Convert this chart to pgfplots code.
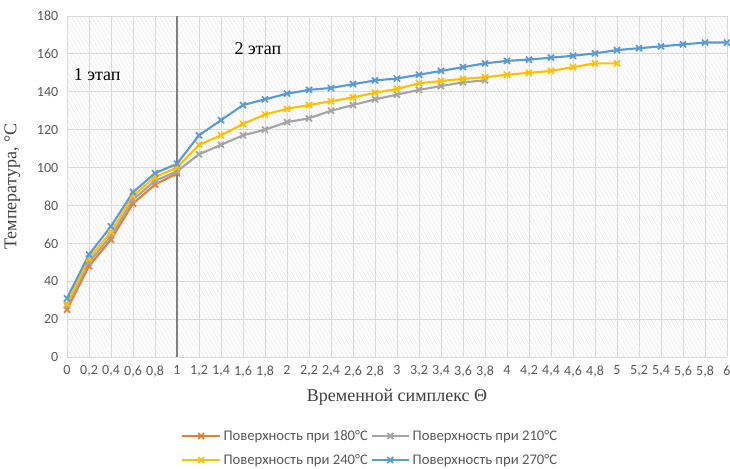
\documentclass[border=0pt]{standalone}
\usepackage{fontspec}
\setmainfont{Carlito}
\newfontfamily\serif{Liberation Serif}
\usepackage{pgfplots}
\pgfplotsset{compat=1.18}
\usetikzlibrary{patterns.meta}
\definecolor{cOr}{HTML}{ED7D31}
\definecolor{cGr}{HTML}{A5A5A5}
\definecolor{cYe}{HTML}{FFC000}
\definecolor{cBl}{HTML}{5B9BD5}
\definecolor{cTk}{HTML}{595959}
\definecolor{cGd}{HTML}{D9D9D9}
\begin{document}
\begin{tikzpicture}
\begin{axis}[
  scale only axis, width=495pt, height=255.75pt,
  xmin=0, xmax=6, ymin=0, ymax=180,
  xtick={0,0.2,0.4,0.6,0.8,1,1.2,1.4,1.6,1.8,2,2.2,2.4,2.6,2.8,3,3.2,3.4,3.6,3.8,4,4.2,4.4,4.6,4.8,5,5.2,5.4,5.6,5.8,6},
  xticklabels={0,{0,2},{0,4},{0,6},{0,8},1,{1,2},{1,4},{1,6},{1,8},2,{2,2},{2,4},{2,6},{2,8},3,{3,2},{3,4},{3,6},{3,8},4,{4,2},{4,4},{4,6},{4,8},5,{5,2},{5,4},{5,6},{5,8},6},
  ytick={0,20,...,180},
  /pgf/number format/assume math mode=true,
  tick label style={font=\fontsize{10.5}{12}\selectfont, text=cTk},
  major tick length=0pt,
  grid=major, grid style={cGd, line width=0.6pt},
  axis line style={draw=none},
  axis background/.style={pattern={Lines[angle=-60,distance=2.6pt,line width=0.5pt]}, pattern color=black!8},
  xlabel={\serif Временной симплекс Θ},
  ylabel={\serif Температура, °С},
  every axis x label/.style={at={(axis description cs:0.5,0)}, yshift=-30pt, anchor=center, font=\fontsize{13.5}{16}\selectfont, text=black!75},
  every axis y label/.style={at={(axis description cs:0,0.5)}, xshift=-41pt, rotate=90, anchor=center, font=\fontsize{13.5}{16}\selectfont, text=black!75},
  xticklabel style={yshift=-3pt},
  yticklabel style={xshift=-3pt},
  clip=false,
  legend columns=2,
  legend style={draw=none, fill=none, at={(0.46,-0.267)}, anchor=center,
    font=\fontsize{11}{13}\selectfont, text=cTk,
    row sep=5pt,
    /tikz/every even column/.append style={column sep=0pt},
    cells={anchor=west}},
  legend image code/.code={\draw[mark repeat=2,mark phase=2] plot coordinates {(0pt,0pt) (14pt,0pt) (28pt,0pt)};},
  every axis plot/.append style={line width=1.6pt, mark=x, mark size=3.2pt, mark options={line width=1.3pt}},
]
\draw[color=black!50, line width=1.6pt] (axis cs:1,0) -- (axis cs:1,180);
\addplot[cOr] coordinates {(0,25) (0.2,48) (0.4,62) (0.6,81) (0.8,91) (1,97)};
\addplot[cGr] coordinates {(0,27) (0.2,50) (0.4,64) (0.6,83) (0.8,93) (1,98) (1.2,107) (1.4,112) (1.6,117) (1.8,120) (2,124) (2.2,126) (2.4,130) (2.6,133) (2.8,136) (3,138.5) (3.2,141) (3.4,143) (3.6,145) (3.8,146)};
\addplot[cYe] coordinates {(0,28) (0.2,52) (0.4,66) (0.6,85) (0.8,95) (1,100) (1.2,112) (1.4,117) (1.6,123) (1.8,128) (2,131) (2.2,133) (2.4,135) (2.6,137) (2.8,139.5) (3,141.5) (3.2,144.5) (3.4,145.7) (3.6,146.8) (3.8,147.7) (4,149) (4.2,150) (4.4,151) (4.6,153) (4.8,155) (5,155)};
\addplot[cBl] coordinates {(0,31) (0.2,54) (0.4,69) (0.6,87) (0.8,97) (1,102) (1.2,117) (1.4,125) (1.6,133) (1.8,136) (2,139) (2.2,141) (2.4,142) (2.6,144) (2.8,146) (3,147) (3.2,149) (3.4,151) (3.6,153) (3.8,155) (4,156.3) (4.2,157) (4.4,158) (4.6,159) (4.8,160.3) (5,162) (5.2,163) (5.4,164) (5.6,165) (5.8,166) (6,166)};
\legend{Поверхность при 180°C, Поверхность при 210°C, Поверхность при 240°C, Поверхность при 270°C}
\node[anchor=west, font=\serif\fontsize{13.5}{16}\selectfont] at (axis cs:0.02,149) {1 этап};
\node[anchor=west, font=\serif\fontsize{13.5}{16}\selectfont] at (axis cs:1.48,163) {2 этап};
\end{axis}
\pgfresetboundingbox
\path[use as bounding box] (-50.25pt,-83.25pt) rectangle (497.25pt,267.75pt);
\end{tikzpicture}
\end{document}
